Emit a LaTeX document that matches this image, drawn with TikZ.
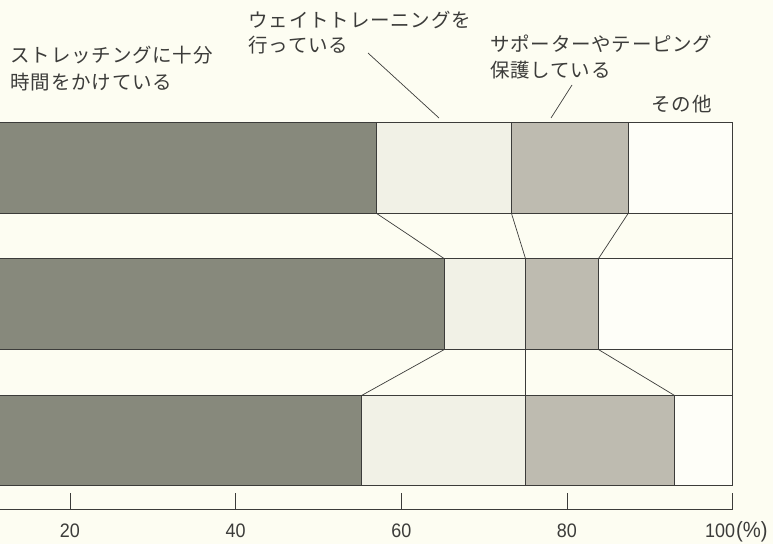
\documentclass[tikz,border=0pt]{standalone}
\usepackage{fontspec}
\newfontfamily\jp[LetterSpace=4]{Noto Sans CJK JP}
\newfontfamily\numf[FakeStretch=0.92]{Liberation Sans}
\definecolor{bg}{RGB}{253,253,242}
\definecolor{segdark}{RGB}{135,137,124}
\definecolor{seglight}{RGB}{241,241,230}
\definecolor{segmid}{RGB}{190,187,176}
\definecolor{segwhite}{RGB}{254,254,248}
\definecolor{ink}{RGB}{60,60,58}
\begin{document}
\begin{tikzpicture}[x=1pt,y=-1pt,
  declare function={px(\p)=-95.7+8.283*\p;},
  seg/.style={draw=ink, line width=0.7pt},
  link/.style={draw=ink, line width=0.7pt},
  lab/.style={inner sep=0pt, anchor=base west, text=ink, font=\jp\fontsize{19.5}{21}\selectfont},
  num/.style={inner sep=0pt, anchor=base, text=ink, font=\numf\fontsize{19.5}{21}\selectfont}]
\fill[bg] (0,0) rectangle (773,544);
\useasboundingbox (0,0) rectangle (773,544);

% bars
\foreach \yt/\yb/\a/\b/\c/\n in {122.7/213.3/57/73.3/87.4/1, 258.7/349.5/65.2/75/83.8/2, 395.5/485/55.2/75/93/3}{
  \draw[seg, fill=segdark] (-10,\yt) rectangle ({px(\a)},\yb);
  \draw[seg, fill=seglight] ({px(\a)},\yt) rectangle ({px(\b)},\yb);
  \draw[seg, fill=segmid] ({px(\b)},\yt) rectangle ({px(\c)},\yb);
  \draw[seg, fill=segwhite] ({px(\c)},\yt) rectangle ({px(100)},\yb);
  \coordinate (t\n a) at ({px(\a)},\yt);
  \coordinate (t\n b) at ({px(\b)},\yt);
  \coordinate (t\n c) at ({px(\c)},\yt);
  \coordinate (t\n d) at ({px(100)},\yt);
  \coordinate (u\n a) at ({px(\a)},\yb);
  \coordinate (u\n b) at ({px(\b)},\yb);
  \coordinate (u\n c) at ({px(\c)},\yb);
  \coordinate (u\n d) at ({px(100)},\yb);
}
% connectors between bars
\foreach \k in {a,b,c,d}{
  \draw[link] (u1\k) -- (t2\k);
  \draw[link] (u2\k) -- (t3\k);
}

% axis
\coordinate (ax0) at (0,509);
\coordinate (ax1) at ({px(100)},509);
\draw[link] (ax0) -- (ax1);
\foreach \v in {20,40,60,80,100}{
  \draw[link] ({px(\v)},509) -- ({px(\v)},493);
}
\foreach \v in {20,40,60,80}{
  \node[num] (n\v) at ({px(\v)},537) {\v};
}
\node[num, anchor=base west] (n100) at (705,537) {100\kern1pt{\fontsize{22}{24}\selectfont(\%)}};

% labels
\node[lab] (s1) at (10.5,62.4) {ストレッチングに十分};
\node[lab] (s2) at (10.5,89.9) {時間をかけている};
\node[lab] (w1) at (248.5,27.4) {ウェイトトレーニングを};
\node[lab] (w2) at (248.5,52.9) {行っている};
\node[lab] (p1) at (490,51.4) {サポーターやテーピング};
\node[lab] (p2) at (490,77.4) {保護している};
\node[lab] (o1) at (651.5,111.9) {その他};

% leaders
\coordinate (wl0) at (368,53);
\coordinate (wl1) at (439,118);
\coordinate (pl0) at (572,85);
\coordinate (pl1) at (551,118);
\draw[link] (wl0) -- (wl1);
\draw[link] (pl0) -- (pl1);
\end{tikzpicture}
\end{document}
